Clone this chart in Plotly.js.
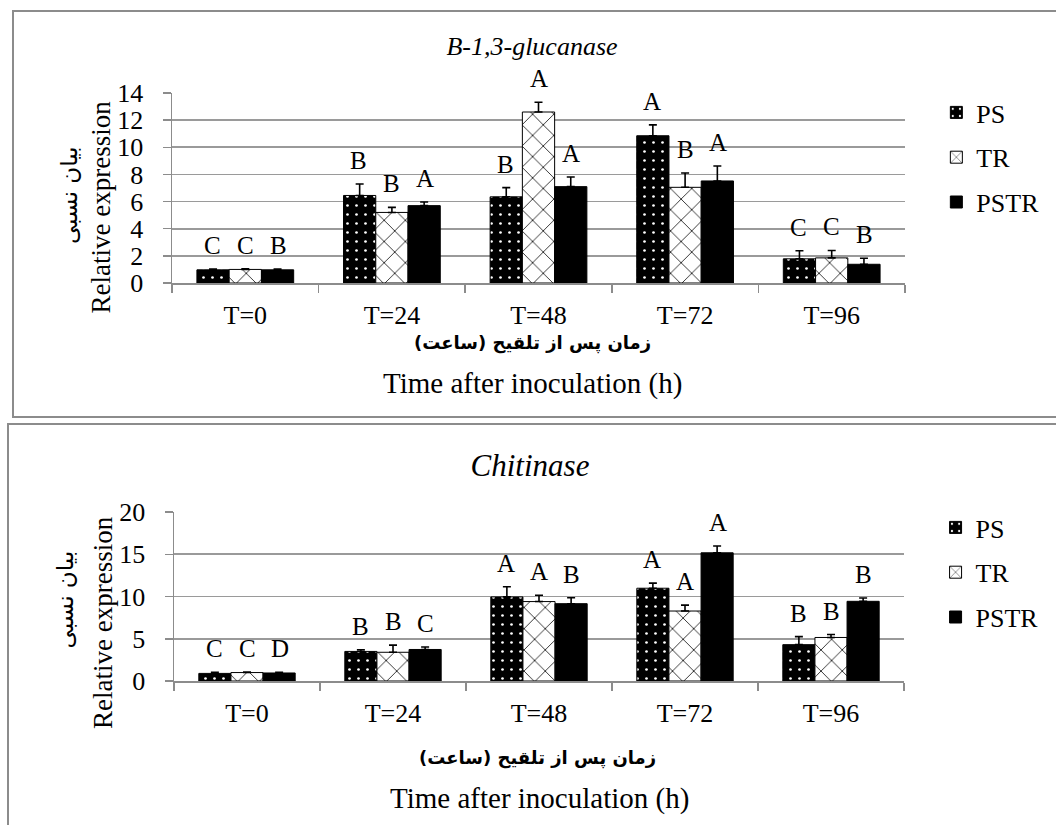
<!DOCTYPE html>
<html>
<head>
<meta charset="utf-8">
<script src="https://cdn.plot.ly/plotly-3.0.1.min.js"></script>
<style>
  html, body { margin:0; padding:0; background:#fff; overflow:hidden; }
  #wrap { position:relative; width:1056px; height:825px; }
  .plot { position:absolute; left:0; width:1056px; }
  .box { position:absolute; border:2px solid #8c8c8c; box-sizing:border-box; pointer-events:none; }
</style>
</head>
<body>
<div id="wrap">
  <div id="chart1" class="plot" style="top:0px;height:420px;"></div>
  <div id="chart2" class="plot" style="top:420px;height:405px;"></div>
  <div class="box" style="left:12px;top:10px;width:1100px;height:408px;"></div>
  <div class="box" style="left:7px;top:423px;width:1100px;height:500px;"></div>
</div>
<script>
// ---------- data ----------
const categories = ['T=0', 'T=24', 'T=48', 'T=72', 'T=96'];
const seriesNames = ['PS', 'TR', 'PSTR'];

// B-1,3-glucanase
const glucPS        = [0.97, 6.45, 6.35, 10.85, 1.78];
const glucPSErr     = [0.06, 0.85, 0.68, 0.80, 0.60];
const glucTR        = [1.00, 5.20, 12.60, 7.05, 1.85];
const glucTRErr     = [0.05, 0.37, 0.72, 1.05, 0.55];
const glucPSTR      = [0.97, 5.70, 7.10, 7.52, 1.38];
const glucPSTRErr   = [0.05, 0.27, 0.71, 1.10, 0.44];
const glucPSLetters   = ['C', 'B', 'B', 'A', 'C'];
const glucTRLetters   = ['C', 'B', 'A', 'B', 'C'];
const glucPSTRLetters = ['B', 'A', 'A', 'A', 'B'];

// Chitinase
const chitPS        = [0.90, 3.50, 9.95, 10.98, 4.30];
const chitPSErr     = [0.12, 0.20, 1.20, 0.60, 0.95];
const chitTR        = [1.00, 3.40, 9.40, 8.28, 5.15];
const chitTRErr     = [0.05, 0.85, 0.75, 0.70, 0.35];
const chitPSTR      = [0.95, 3.73, 9.15, 15.17, 9.43];
const chitPSTRErr   = [0.08, 0.30, 0.70, 0.80, 0.40];
const chitPSLetters   = ['C', 'B', 'A', 'A', 'B'];
const chitTRLetters   = ['C', 'B', 'A', 'A', 'B'];
const chitPSTRLetters = ['D', 'C', 'B', 'A', 'B'];

const yTicks1 = [0, 2, 4, 6, 8, 10, 12, 14];
const yTicks2 = [0, 5, 10, 15, 20];

const titleFa = 'زمان پس از تلقیح (ساعت)';
const titleEn = 'Time after inoculation (h)';
const yTitleFa = 'بیان نسبی';
const yTitleEn = 'Relative expression';

// ---------- styling ----------
const SERIF = '"Liberation Serif", "Times New Roman", Times, "DejaVu Serif", serif';
const PERSIAN = '"DejaVu Sans", "Noto Sans", sans-serif';
const GRID = '#9a9a9a';

const styles = [
  { pattern: { shape: '.', bgcolor: '#000', fgcolor: '#fff', size: 9, solidity: 0.07 } },
  { pattern: { shape: 'x', bgcolor: '#fff', fgcolor: '#000', size: 15, solidity: 0.1 } },
  { pattern: null }
];

function buildChart(divId, cfg) {
  const W = 1056, H = cfg.H;
  const m = cfg.margin;
  const plotW = W - m.l - m.r, plotH = H - m.t - m.b;
  const px2x = px => (px - m.l) / plotW;
  const py2y = py => (H - m.b - py) / plotH;   // py relative to this div

  const vals = cfg.values, errs = cfg.errors, lets = cfg.letters;
  const bargap = 0.34;
  const catPx = plotW / categories.length;
  const barPx = catPx * (1 - bargap) / 3;

  const traces = seriesNames.map((name, i) => {
    const marker = { color: '#000', line: { color: '#000', width: 1 } };
    if (styles[i].pattern) marker.pattern = styles[i].pattern;
    return {
      type: 'bar', name: name, x: categories, y: vals[i],
      legendgroup: name,
      marker: marker,
      error_y: { type: 'data', array: errs[i], arrayminus: errs[i].map(() => 0),
                 symmetric: false, color: '#000', thickness: 1.6, width: 4 },
      hoverinfo: 'x+y+name'
    };
  });

  const annotations = [];
  seriesNames.forEach((name, i) => {
    categories.forEach((c, j) => {
      annotations.push({
        x: c, y: vals[i][j] + errs[i][j], xref: 'x', yref: 'y',
        text: lets[i][j], showarrow: false, yanchor: 'bottom',
        xshift: (i - 1) * barPx, yshift: 8,
        font: { family: SERIF, size: 25, color: '#000' }
      });
    });
  });
  // x-axis titles (Persian + English)
  annotations.push({ xref: 'paper', yref: 'paper', x: px2x(cfg.faX), y: py2y(cfg.faY),
    text: '<b>' + titleFa + '</b>', showarrow: false, xanchor: 'center', yanchor: 'middle',
    font: { family: PERSIAN, size: 18, color: '#000' } });
  annotations.push({ xref: 'paper', yref: 'paper', x: px2x(cfg.enX), y: py2y(cfg.enY),
    text: titleEn, showarrow: false, xanchor: 'center', yanchor: 'middle',
    font: { family: SERIF, size: 29, color: '#000' } });
  // y-axis titles
  annotations.push({ xref: 'paper', yref: 'paper', x: px2x(cfg.yEnX), y: py2y(cfg.yEnY),
    text: yTitleEn, showarrow: false, textangle: -90, xanchor: 'center', yanchor: 'middle',
    font: { family: SERIF, size: 27, color: '#000' } });
  annotations.push({ xref: 'paper', yref: 'paper', x: px2x(cfg.yFaX), y: py2y(cfg.yFaY),
    text: yTitleFa, showarrow: false, textangle: -90, xanchor: 'center', yanchor: 'middle',
    font: { family: PERSIAN, size: 23, color: '#000' } });

  const layout = {
    width: W, height: H,
    font: { family: SERIF, color: '#000' },
    margin: { l: m.l, r: m.r, t: m.t, b: m.b, pad: 0 },
    paper_bgcolor: 'rgba(0,0,0,0)', plot_bgcolor: 'rgba(0,0,0,0)',
    barmode: 'group', bargap: bargap, bargroupgap: 0,
    title: { text: '<i>' + cfg.title + '</i>', xref: 'container', yref: 'container',
             x: cfg.titleX / W, y: 1 - cfg.titleY / H, xanchor: 'center', yanchor: 'middle',
             font: { family: SERIF, size: cfg.titleSize, color: '#000' } },
    xaxis: { type: 'category', tickson: 'boundaries', ticks: 'outside', ticklen: 8,
             tickcolor: '#8c8c8c', tickwidth: 1.5, showline: true, linecolor: '#8c8c8c', linewidth: 1.5,
             showgrid: false, ticklabelstandoff: 8,
             tickfont: { family: SERIF, size: 26, color: '#000' } },
    yaxis: { range: cfg.yRange, tickvals: cfg.yTicks, ticks: 'outside', ticklen: 8,
             tickcolor: '#8c8c8c', tickwidth: 1.5, showline: true, linecolor: '#8c8c8c', linewidth: 1.5,
             showgrid: true, gridcolor: GRID, gridwidth: 1.6, zeroline: false,
             ticklabelstandoff: 14,
             tickfont: { family: SERIF, size: 26, color: '#000' } },
    showlegend: true,
    legend: { x: px2x(cfg.legX), y: py2y(cfg.legY), xanchor: 'left', yanchor: 'top',
              traceorder: 'grouped', tracegroupgap: 8, bgcolor: 'rgba(0,0,0,0)',
              font: { family: SERIF, size: 26, color: '#000' }, itemwidth: 30 },
    annotations: annotations
  };
  Plotly.newPlot(divId, traces, layout, { displayModeBar: false, staticPlot: true });
}

buildChart('chart1', {
  H: 420, margin: { l: 172, r: 136, t: 93, b: 137 },
  values: [glucPS, glucTR, glucPSTR], errors: [glucPSErr, glucTRErr, glucPSTRErr],
  letters: [glucPSLetters, glucTRLetters, glucPSTRLetters],
  yRange: [0, 14], yTicks: yTicks1,
  title: 'B-1,3-glucanase', titleX: 532, titleY: 46, titleSize: 26,
  faX: 540, faY: 343, enX: 540, enY: 383,
  yEnX: 100, yEnY: 207, yFaX: 67, yFaY: 195,
  legX: 952, legY: 89
});

buildChart('chart2', {
  H: 405, margin: { l: 174, r: 142, t: 92, b: 144 },
  values: [chitPS, chitTR, chitPSTR], errors: [chitPSErr, chitTRErr, chitPSTRErr],
  letters: [chitPSLetters, chitTRLetters, chitPSTRLetters],
  yRange: [0, 20], yTicks: yTicks2,
  title: 'Chitinase', titleX: 530, titleY: 45, titleSize: 31,
  faX: 542, faY: 338, enX: 545, enY: 378,
  yEnX: 102, yEnY: 202, yFaX: 63, yFaY: 180,
  legX: 946, legY: 84
});
</script>
</body>
</html>
